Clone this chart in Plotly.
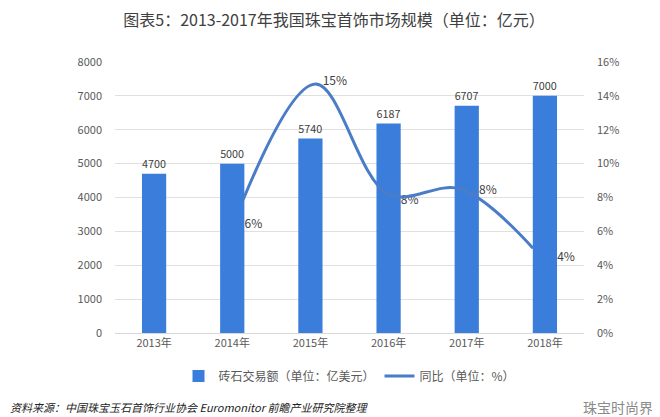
import plotly.graph_objects as go

years = ["2013年", "2014年", "2015年", "2016年", "2017年", "2018年"]
sales = [4700, 5000, 5740, 6187, 6707, 7000]
growth_years = ["2014年", "2015年", "2016年", "2017年", "2018年"]
growth_line = [7.85, 14.7, 8.2, 8.5, 5.0]      # line as drawn in the picture
growth_label_val = [6.4, 14.8, 7.8, 8.4, 4.4]  # positions of the % labels
growth_text = ["6%", "15%", "8%", "8%", "4%"]
left_ticks = [0, 1000, 2000, 3000, 4000, 5000, 6000, 7000, 8000]
right_ticks = [0, 2, 4, 6, 8, 10, 12, 14, 16]
right_tick_text = ["0%", "2%", "4%", "6%", "8%", "10%", "12%", "14%", "16%"]

FONT = "Noto Sans CJK SC, Noto Sans, sans-serif"
BAR = "#3b7ddb"
LINE = "#4a7cc8"

W, H = 652, 409  # page body has an 8px margin
L, T, PW, PH = 107, 54, 469, 271

fig = go.Figure()
fig.add_trace(go.Bar(
    x=years, y=sales, name="砖石交易额（单位：亿美元）",
    marker=dict(color=BAR, line=dict(width=0)),
    text=[str(v) for v in sales], textposition="outside",
    textfont=dict(size=12, color="#404040", family=FONT),
    cliponaxis=False,
))
fig.add_trace(go.Scatter(
    x=growth_years, y=growth_line, name="同比（单位：%）",
    mode="lines", line=dict(color=LINE, width=3, shape="spline", smoothing=1.0),
    xaxis="x2", yaxis="y2",
))
fig.add_trace(go.Scatter(
    x=growth_years, y=growth_label_val, mode="markers+text", text=growth_text,
    textposition="middle right", showlegend=False, hoverinfo="skip",
    marker=dict(size=18, color="rgba(0,0,0,0)"),
    textfont=dict(size=12, color="#404040", family=FONT),
    xaxis="x", yaxis="y2", cliponaxis=False,
))

fig.update_layout(
    width=W, height=H,
    margin=dict(l=L, r=W - L - PW, t=T, b=H - T - PH, autoexpand=False),
    paper_bgcolor="white", plot_bgcolor="white",
    font=dict(family=FONT, color="#595959", size=11),
    bargap=0.69,
    showlegend=True,
    legend=dict(orientation="h", x=0.5, xanchor="center", y=1 - 368 / H,
                yref="container", yanchor="middle",
                font=dict(size=12, color="#595959"), itemwidth=30),
    title=dict(text="图表5：2013-2017年我国珠宝首饰市场规模（单位：亿元）",
               x=0.5, xanchor="center", y=1 - 12 / H, yanchor="middle",
               font=dict(size=16, color="#404040", family=FONT)),
    xaxis=dict(type="category", categoryarray=years, range=[-0.5, 5.5],
               showgrid=False, showline=True, linecolor="#d9d9d9",
               ticks="", tickfont=dict(size=11, color="#595959")),
    xaxis2=dict(type="category", categoryarray=growth_years, range=[-1.766, 4.703],
                overlaying="x", visible=False),
    yaxis=dict(range=[0, 8000], tickvals=left_ticks, showgrid=True,
               gridcolor="#e0e0e0", zeroline=False, ticks="",
               tickfont=dict(size=11, color="#595959"), ticklabelstandoff=12),
    yaxis2=dict(range=[0, 16], tickvals=right_ticks, ticktext=right_tick_text,
                overlaying="y", side="right", showgrid=False, zeroline=False,
                ticks="", tickfont=dict(size=11, color="#595959"), ticklabelstandoff=12),
    annotations=[
        dict(text="<i>资料来源：中国珠宝玉石首饰行业协会 Euromonitor 前瞻产业研究院整理</i>",
             xref="paper", yref="paper", x=-L / PW, y=-74 / PH, xanchor="left", yanchor="middle",
             showarrow=False, font=dict(size=11, color="#222222", family=FONT)),
        dict(text="珠宝时尚界", xref="paper", yref="paper", x=(W - 5 - L) / PW, y=-74 / PH,
             xanchor="right", yanchor="middle", showarrow=False,
             font=dict(size=14, color="#8a8a8a", family=FONT)),
    ],
)

fig.write_html("out.html")
